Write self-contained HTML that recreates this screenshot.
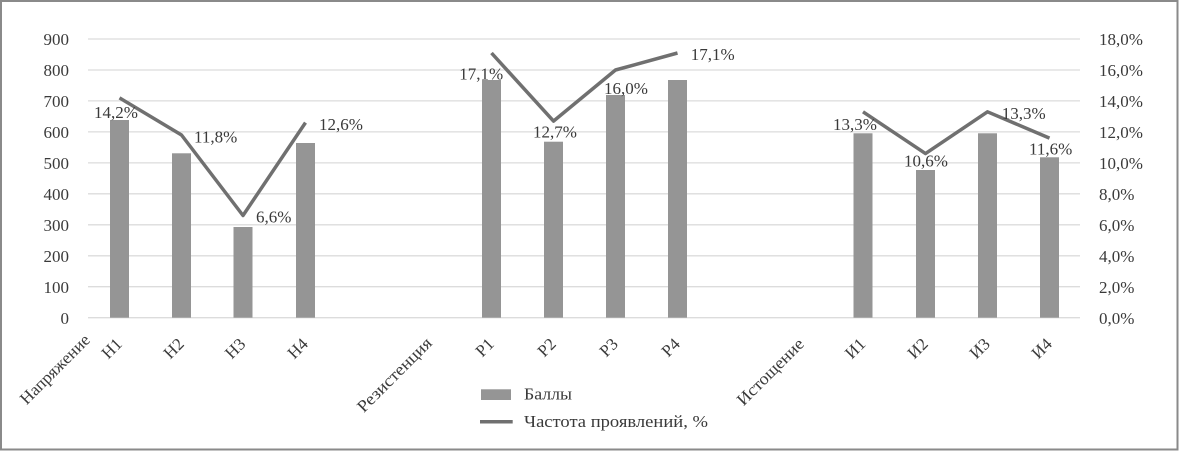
<!DOCTYPE html>
<html><head><meta charset="utf-8"><style>
html,body{margin:0;padding:0;background:#fff;}
svg{display:block;}
text{font-family:"Liberation Serif","Noto Serif CJK SC",serif;fill:#3a3a3a;font-size:17px;}
</style></head><body>
<svg width="1179" height="451" viewBox="0 0 1179 451" xmlns="http://www.w3.org/2000/svg">
<rect x="0" y="0" width="1179" height="451" fill="#fff"/>
<rect x="1" y="1" width="1176.5" height="448.5" fill="none" stroke="#8a8a8a" stroke-width="2"/>
<!-- gridlines -->
<g stroke="#dcdcdc" stroke-width="1.3">
<line x1="88" x2="1080" y1="39" y2="39"/>
<line x1="88" x2="1080" y1="70" y2="70"/>
<line x1="88" x2="1080" y1="100.9" y2="100.9"/>
<line x1="88" x2="1080" y1="131.9" y2="131.9"/>
<line x1="88" x2="1080" y1="162.9" y2="162.9"/>
<line x1="88" x2="1080" y1="193.8" y2="193.8"/>
<line x1="88" x2="1080" y1="224.8" y2="224.8"/>
<line x1="88" x2="1080" y1="255.8" y2="255.8"/>
<line x1="88" x2="1080" y1="286.7" y2="286.7"/>
<line x1="88" x2="1080" y1="317.7" y2="317.7"/>
</g>
<!-- left axis -->
<g text-anchor="end">
<text x="69" y="45">900</text>
<text x="69" y="76">800</text>
<text x="69" y="107">700</text>
<text x="69" y="138">600</text>
<text x="69" y="169">500</text>
<text x="69" y="200">400</text>
<text x="69" y="231">300</text>
<text x="69" y="262">200</text>
<text x="69" y="293">100</text>
<text x="69" y="324">0</text>
</g>
<!-- right axis -->
<g>
<text x="1099" y="45">18,0%</text>
<text x="1099" y="76">16,0%</text>
<text x="1099" y="107">14,0%</text>
<text x="1099" y="138">12,0%</text>
<text x="1099" y="169">10,0%</text>
<text x="1099" y="200">8,0%</text>
<text x="1099" y="231">6,0%</text>
<text x="1099" y="262">4,0%</text>
<text x="1099" y="293">2,0%</text>
<text x="1099" y="324">0,0%</text>
</g>
<!-- bars -->
<g fill="#959595">
<rect x="110" y="120" width="19" height="197.7"/>
<rect x="172" y="153.3" width="19" height="164.4"/>
<rect x="233.5" y="227" width="19" height="90.7"/>
<rect x="296" y="143" width="19" height="174.7"/>
<rect x="482" y="80" width="19" height="237.7"/>
<rect x="544" y="141.7" width="19" height="176"/>
<rect x="606" y="95" width="19" height="222.7"/>
<rect x="668" y="80" width="19" height="237.7"/>
<rect x="853.5" y="133.3" width="19" height="184.4"/>
<rect x="916" y="170" width="19" height="147.7"/>
<rect x="978" y="133.3" width="19" height="184.4"/>
<rect x="1040" y="157.3" width="19" height="160.4"/>
</g>
<!-- lines -->
<g fill="none" stroke="#707070" stroke-width="3.5" stroke-linejoin="round">
<polyline points="119.5,97.9 181.5,135 243,215.5 305.5,122.6"/>
<polyline points="491.5,53 553.5,121.1 615.5,70 677.5,53"/>
<polyline points="863,111.8 925.5,153.6 987.5,111.8 1049.5,138.1"/>
</g>
<!-- data labels -->
<g>
<text x="94" y="118">14,2%</text>
<text x="194" y="142.3">11,8%</text>
<text x="256" y="222.3">6,6%</text>
<text x="319" y="130">12,6%</text>
<text x="459.3" y="79.3">17,1%</text>
<text x="533" y="137.3">12,7%</text>
<text x="604" y="94">16,0%</text>
<text x="690.7" y="60">17,1%</text>
<text x="833" y="130">13,3%</text>
<text x="904" y="166.7">10,6%</text>
<text x="1001.7" y="119">13,3%</text>
<text x="1029" y="154.3">11,6%</text>
</g>
<!-- category labels -->
<g text-anchor="end">
<text transform="translate(91,341) rotate(-45)" textLength="91" lengthAdjust="spacingAndGlyphs">Напряжение</text>
<text transform="translate(123,345) rotate(-45)">Н1</text>
<text transform="translate(185,345) rotate(-45)">Н2</text>
<text transform="translate(246.5,345) rotate(-45)">Н3</text>
<text transform="translate(309,345) rotate(-45)">Н4</text>
<text transform="translate(433,344) rotate(-45)" textLength="98" lengthAdjust="spacingAndGlyphs">Резистенция</text>
<text transform="translate(495,345) rotate(-45)">Р1</text>
<text transform="translate(557,345) rotate(-45)">Р2</text>
<text transform="translate(619,345) rotate(-45)">Р3</text>
<text transform="translate(681,345) rotate(-45)">Р4</text>
<text transform="translate(805,345) rotate(-45)" textLength="87" lengthAdjust="spacingAndGlyphs">Истощение</text>
<text transform="translate(866.5,345) rotate(-45)">И1</text>
<text transform="translate(929,345) rotate(-45)">И2</text>
<text transform="translate(991,345) rotate(-45)">И3</text>
<text transform="translate(1053,345) rotate(-45)">И4</text>
</g>
<!-- legend -->
<rect x="481" y="389.3" width="30" height="10.7" fill="#959595"/>
<text x="524" y="399.5" textLength="48" lengthAdjust="spacingAndGlyphs">Баллы</text>
<line x1="480" x2="512.7" y1="421.7" y2="421.7" stroke="#707070" stroke-width="3.5"/>
<text x="524" y="427" textLength="184" lengthAdjust="spacingAndGlyphs">Частота проявлений, %</text>
</svg>
</body></html>
